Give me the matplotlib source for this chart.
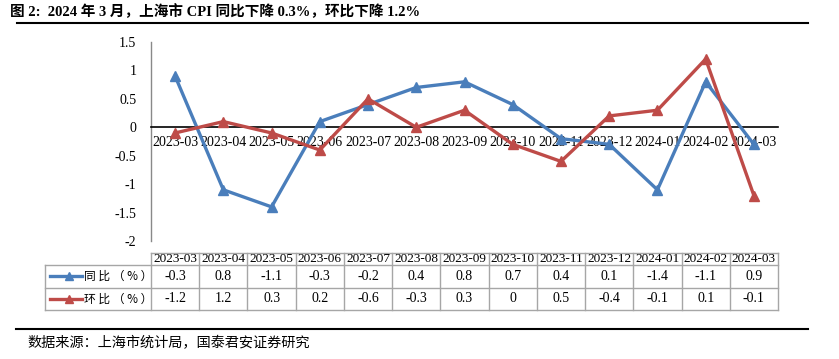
import matplotlib
matplotlib.use("Agg")
import matplotlib.pyplot as plt
from matplotlib.lines import Line2D
from matplotlib.transforms import blended_transform_factory

plt.rcParams['font.family'] = ['Liberation Serif', 'Noto Sans CJK SC']

# 数据
months = ["2023-03", "2023-04", "2023-05", "2023-06", "2023-07", "2023-08", "2023-09",
          "2023-10", "2023-11", "2023-12", "2024-01", "2024-02", "2024-03"]
yoy = [0.9, -1.1, -1.4, 0.1, 0.4, 0.7, 0.8, 0.4, -0.2, -0.3, -1.1, 0.8, -0.3]
mom = [-0.1, 0.1, -0.1, -0.4, 0.5, 0.0, 0.3, -0.3, -0.6, 0.2, 0.3, 1.2, -1.2]
# the data table in the source lists the values in reverse order
yoy_table = ["-0.3", "0.8", "-1.1", "-0.3", "-0.2", "0.4", "0.8", "0.7", "0.4", "0.1", "-1.4", "-1.1", "0.9"]
mom_table = ["-1.2", "1.2", "0.3", "0.2", "-0.6", "-0.3", "0.3", "0", "0.5", "-0.4", "-0.1", "0.1", "-0.1"]
series_names = ["同比（%）", "环比（%）"]
yticks = [-2, -1.5, -1, -0.5, 0, 0.5, 1, 1.5]

BLUE = "#4A7EBB"
RED = "#BE4B48"
GRID = "#A6A6A6"

W, H = 839, 359
fig = plt.figure(figsize=(W / 100, H / 100), dpi=100)

# overlay axes in pixel coords for decorations
ov = fig.add_axes([0, 0, 1, 1])
ov.set_xlim(0, W)
ov.set_ylim(H, 0)
ov.axis("off")

# main chart
left, right, top, bottom = 151, 778, 42, 241
ax = fig.add_axes([left / W, (H - bottom) / H, (right - left) / W, (bottom - top) / H])
x = list(range(len(months)))
ax.plot(x, yoy, color=BLUE, lw=2.4, marker="^", ms=7, zorder=3)
ax.plot(x, mom, color=RED, lw=2.4, marker="^", ms=7, zorder=3)
ax.set_xlim(-0.5, len(months) - 0.5)
ax.set_ylim(-2, 1.5)
ax.set_yticks(yticks)
ax.set_yticklabels([f"{v:g}" for v in yticks], fontsize=10)
ax.tick_params(axis="y", length=0, pad=10.5)
ax.set_xticks(x)
ax.set_xticklabels(months, fontsize=9.5)
ax.tick_params(axis="x", length=0, pad=6)
for lab in ax.get_xticklabels():
    lab.set_zorder(1)
ax.spines["bottom"].set_position(("data", 0))
ax.spines["bottom"].set_color("black")
ax.spines["bottom"].set_linewidth(1.2)
ax.spines["left"].set_color("#898989")
ax.spines["left"].set_linewidth(1)
ax.spines["top"].set_visible(False)
ax.spines["right"].set_visible(False)
ax.patch.set_alpha(0)

# data table below the chart
tr = blended_transform_factory(ax.transData, ov.transData)
t_top, t_hdr, t_r1, t_r2 = 252.7, 265, 287.7, 310
n = len(months)
for i in range(n + 1):
    ov.plot([i - 0.5, i - 0.5], [t_top, t_r2], color=GRID, lw=1, transform=tr)
ov.plot([-0.5, n - 0.5], [t_top, t_top], color=GRID, lw=1, transform=tr)
for yy in (t_hdr, t_r1, t_r2):
    ov.plot([45, right], [yy, yy], color=GRID, lw=1)
ov.plot([45, 45], [t_hdr, t_r2], color=GRID, lw=1)

for i, m in enumerate(months):
    ov.text(i, (t_top + t_hdr) / 2 + 0.5, m, transform=tr, ha="center", va="center", fontsize=9.5)
    ov.text(i, (t_hdr + t_r1) / 2, yoy_table[i], transform=tr, ha="center", va="center", fontsize=10)
    ov.text(i, (t_r1 + t_r2) / 2, mom_table[i], transform=tr, ha="center", va="center", fontsize=10)

for (y0, y1), name, col in zip([(t_hdr, t_r1), (t_r1, t_r2)], series_names, [BLUE, RED]):
    yc = (y0 + y1) / 2
    ov.add_line(Line2D([50, 82], [yc, yc], color=col, lw=2.4))
    ov.plot([69], [yc], marker="^", color=col, ms=6)
    ov.text(84, yc, " ".join(name), ha="left", va="center", fontsize=8.5,
            family=["Noto Sans CJK SC"])

# title, rules and source
ov.text(10, 12, "图 2:  2024 年 3 月，上海市 CPI 同比下降 0.3%，环比下降 1.2%", ha="left", va="center",
        fontsize=10.5, fontweight="bold")
ov.plot([17, 808], [23, 23], color="black", lw=1.5)
ov.plot([16, 808], [329, 329], color="black", lw=1.5)
ov.text(27, 343, "数据来源：上海市统计局，国泰君安证券研究", ha="left", va="center", fontsize=10.2)

fig.savefig("out.png", dpi=100)
